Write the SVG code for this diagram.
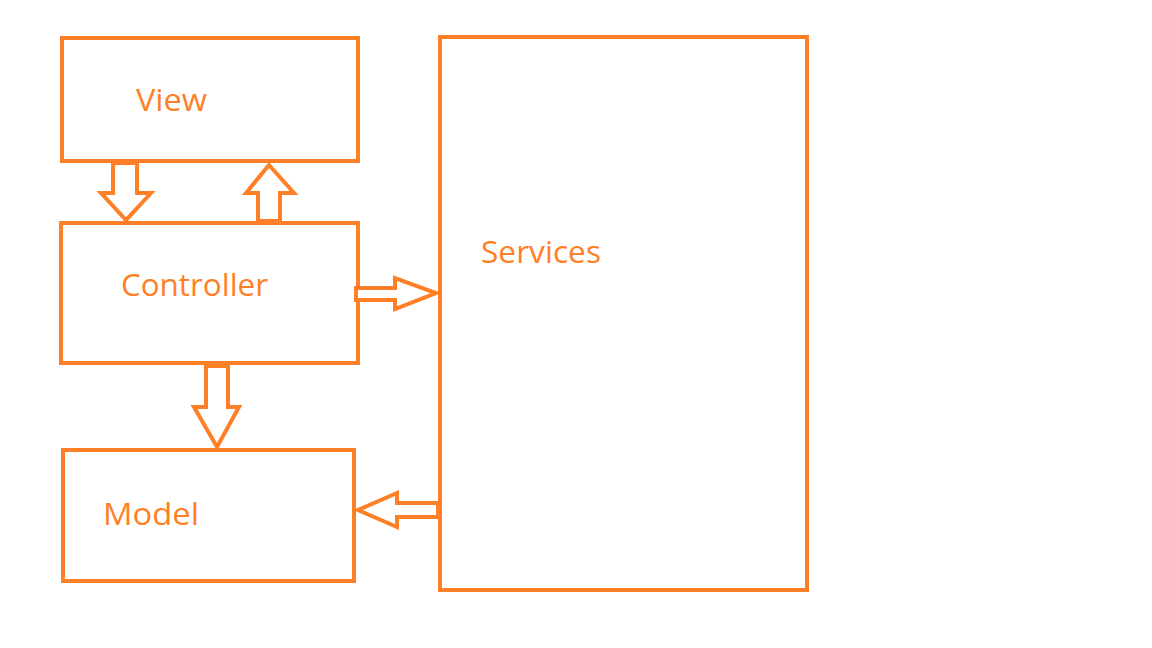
<svg xmlns="http://www.w3.org/2000/svg" width="1152" height="648" viewBox="0 0 1152 648">
<style>
.box{fill:none;stroke:#FF7F27;stroke-width:4}
.arr{fill:#fff;stroke:#FF7F27;stroke-width:4;stroke-linejoin:miter}
.lbl{fill:#FF7F27;font-family:"Open Sans","Noto Sans",sans-serif;font-size:31px}
</style>
<rect width="1152" height="648" fill="#fff"/>
<g id="view"><rect class="box" x="62" y="38" width="296" height="123"/><text class="lbl" x="136" y="111" textLength="71" lengthAdjust="spacingAndGlyphs">View</text></g>
<g id="controller"><rect class="box" x="61" y="223" width="297" height="140"/><text class="lbl" x="121" y="296" textLength="147" lengthAdjust="spacingAndGlyphs">Controller</text></g>
<g id="model"><rect class="box" x="63" y="450" width="291" height="131"/><text class="lbl" x="103" y="525" textLength="96" lengthAdjust="spacingAndGlyphs">Model</text></g>
<g id="services"><rect class="box" x="440" y="37" width="367" height="553"/><text class="lbl" x="481" y="263" textLength="120" lengthAdjust="spacingAndGlyphs">Services</text></g>
<g id="connectors">
<polygon class="arr" points="113,163 137,163 137,193 151,193 126,220 101,193 113,193"/>
<polygon class="arr" points="258,221 280,221 280,193 294,193 269,165 246,193 258,193"/>
<polygon class="arr" points="356,288 395,288 395,278 436,293 395,309 395,300 356,300"/>
<polygon class="arr" points="206,366 228,366 228,407 239,407 217,447 194,407 206,407"/>
<polygon class="arr" points="438,503 397,503 397,493 358,510 397,527 397,517 438,517"/>
</g>
</svg>
